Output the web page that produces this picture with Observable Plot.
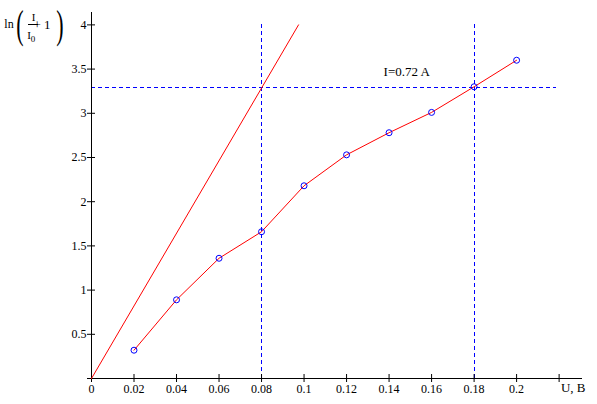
<!DOCTYPE html>
<html>
<head>
<meta charset="utf-8">
<script src="https://cdn.jsdelivr.net/npm/d3@7"></script>
<script src="https://cdn.jsdelivr.net/npm/@observablehq/plot@0.6"></script>
<style>
  html, body { margin: 0; padding: 0; background: #fff; }
  #chart svg { display: block; }
</style>
</head>
<body>
<div id="chart"></div>
<script>
// Measured data
const U = [0.02, 0.04, 0.06, 0.08, 0.10, 0.12, 0.14, 0.16, 0.18, 0.20];
const lnI = [0.32, 0.89, 1.36, 1.66, 2.18, 2.53, 2.78, 3.01, 3.30, 3.60];
// Initial tangent line (straight red line)
const tangentU = [0, 0.0974];
const tangentY = [0, 4];
// Reference lines
const refU = [0.08, 0.18];
const refY = 3.29;
const refYEnd = 0.219;
const refXTop = 4;
// Annotation
const annText = ["I=0.72 A"];
const annU = [0.1374];
const annY = [3.47];
// Axis ticks
const xTicks = [0, 0.02, 0.04, 0.06, 0.08, 0.10, 0.12, 0.14, 0.16, 0.18, 0.20, 0.22];
const xTickLabels = ["0", "0.02", "0.04", "0.06", "0.08", "0.1", "0.12", "0.14", "0.16", "0.18", "0.2", ""];
const yTicks = [0, 0.5, 1, 1.5, 2, 2.5, 3, 3.5, 4];
const yTickLabels = ["", "0.5", "1", "1.5", "2", "2.5", "3", "3.5", "4"];
const xDomain = [0, 0.231];
const yDomain = [0, 4.14];

const pts = U.map((u, i) => ({u, y: lnI[i]}));
const tangent = tangentU.map((u, i) => ({u, y: tangentY[i]}));
const ann = annText.map((t, i) => ({t, u: annU[i], y: annY[i]}));

const font = "'Liberation Serif', 'Times New Roman', serif";
const xFmt = d => xTickLabels[xTicks.findIndex(t => Math.abs(t - d) < 1e-9)] ?? "";
const yFmt = d => yTickLabels[yTicks.findIndex(t => Math.abs(t - d) < 1e-9)] ?? "";

const plot = Plot.plot({
  width: 597,
  height: 404,
  marginLeft: 91,
  marginRight: 15,
  marginTop: 12,
  marginBottom: 26,
  style: {fontFamily: font, fontSize: "12px", background: "#fff", color: "#000"},
  x: {domain: xDomain},
  y: {domain: yDomain},
  marks: [
    // reference dashed lines
    Plot.ruleX(refU, {y1: 0, y2: refXTop, stroke: "#0000ff", strokeWidth: 1, strokeDasharray: "4,3", shapeRendering: "crispEdges"}),
    Plot.ruleY([refY], {x1: 0, x2: refYEnd, stroke: "#0000ff", strokeWidth: 1, strokeDasharray: "4,3", shapeRendering: "crispEdges"}),
    // axes lines
    Plot.ruleY([0], {x1: xDomain[0], x2: xDomain[1], stroke: "#000", shapeRendering: "crispEdges"}),
    Plot.ruleX([0], {y1: yDomain[0], y2: yDomain[1], stroke: "#000", shapeRendering: "crispEdges"}),
    // ticks
    Plot.axisX({ticks: xTicks, tickSize: 8, dy: -4, text: null, label: null, stroke: "#000"}),
    Plot.axisX({ticks: xTicks, tickSize: 0, tickPadding: 6, tickFormat: xFmt, label: null, fill: "#000"}),
    Plot.axisY({ticks: yTicks, tickSize: 8, dx: 4, text: null, label: null, stroke: "#000"}),
    Plot.axisY({ticks: yTicks, tickSize: 0, tickPadding: 5, tickFormat: yFmt, label: null, fill: "#000"}),
    // tangent line
    Plot.line(tangent, {x: "u", y: "y", stroke: "#ff0000", strokeWidth: 1}),
    // data line + points
    Plot.line(pts, {x: "u", y: "y", stroke: "#ff0000", strokeWidth: 1}),
    Plot.dot(pts, {x: "u", y: "y", r: 3, stroke: "#0000ff", fill: "none", strokeWidth: 1}),
    // annotation
    Plot.text(ann, {x: "u", y: "y", text: "t", textAnchor: "start", fontSize: 13, fill: "#000"}),
    // axis title
    Plot.text(["U, B"], {frameAnchor: "bottom-right", dx: 3, dy: 13, fontSize: 13, fill: "#000", textAnchor: "end"})
  ]
});

// Y axis title: ln(I/I0 + 1)
const svg = d3.select(plot);
const g = svg.append("g").attr("font-family", font).attr("fill", "#000");
g.append("text").attr("x", 9).attr("y", 28).attr("font-size", 12).text("ln");
g.append("text").attr("transform", "translate(20,38) scale(1,1.85)").attr("font-size", 22).text("(");
g.append("text").attr("x", 33.5).attr("y", 21).attr("font-size", 11).attr("text-anchor", "middle").text("I");
g.append("line").attr("x1", 28).attr("x2", 38).attr("y1", 24.5).attr("y2", 24.5).attr("stroke", "#000");
g.append("text").attr("x", 29).attr("y", 39).attr("font-size", 11).text("I");
g.append("text").attr("x", 33).attr("y", 42).attr("font-size", 9).text("0");
g.append("text").attr("x", 42).attr("y", 28.5).attr("font-size", 13).text("+\u00a01");
g.append("text").attr("transform", "translate(60,38) scale(1,1.85)").attr("font-size", 22).text(")");

document.getElementById("chart").appendChild(plot);
</script>
</body>
</html>
